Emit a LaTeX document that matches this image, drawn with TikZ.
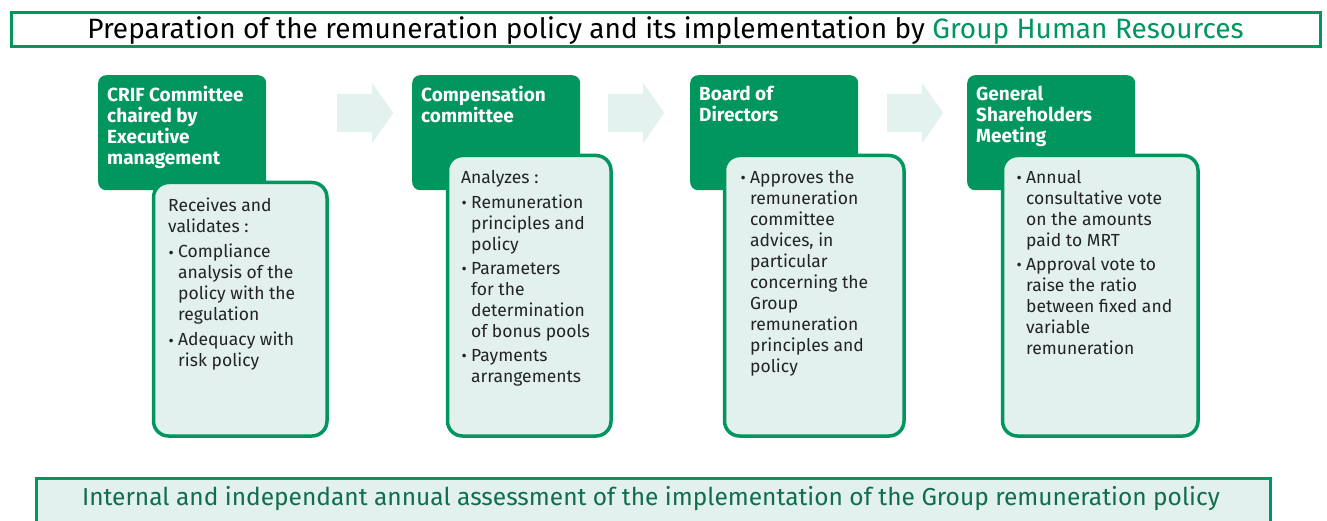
\documentclass[tikz,border=0pt]{standalone}
\usepackage{fontspec}
\setmainfont{Fira Sans}
\usetikzlibrary{shapes.arrows}
\definecolor{bgreen}{RGB}{0,150,94}
\definecolor{lfill}{RGB}{226,240,238}
\definecolor{afill}{RGB}{227,241,239}
\definecolor{dgtext}{RGB}{16,110,74}
\definecolor{bodytext}{RGB}{35,35,35}
\newcommand\bl{\makebox[10pt][l]{\hspace{0.5pt}\raisebox{-0.5pt}{\fontsize{16}{16}\selectfont •}}}
\newcommand\ind{\hspace*{10pt}}
\tikzset{
 hdrbox/.style={fill=bgreen, draw=none, rounded corners=8pt, minimum width=168pt, minimum height=115pt, anchor=north west, inner sep=0pt},
 subbox/.style={fill=lfill, draw=bgreen, line width=3.5pt, rounded corners=15pt, anchor=north west, inner sep=0pt},
 hdrtext/.style={text=white, font=\fontsize{19}{21}\selectfont\bfseries, align=left, anchor=north west, inner sep=0pt},
 subtext/.style={text=bodytext, font=\fontsize{17.5}{21}\selectfont, align=left, anchor=north west, inner sep=0pt},
 flowarrow/.style={single arrow, fill=afill, draw=none, minimum height=56pt, inner xsep=0pt, inner ysep=19pt, single arrow head extend=11pt, single arrow tip angle=110, anchor=west},
 titlebox/.style={draw=bgreen, fill=white, line width=3pt, anchor=north west, inner sep=0pt},
 footbox/.style={draw=bgreen, fill=lfill, line width=3pt, anchor=north west, inner sep=0pt}
}
\begin{document}
\begin{tikzpicture}[x=1pt,y=-1pt]
\useasboundingbox (0,0) rectangle (1327,521);
\clip (0,0) rectangle (1327,521);
% title
\node[titlebox, minimum width=1309pt, minimum height=34pt] (title) at (9.5,11.5) {};
\node[font=\fontsize{28}{32}\selectfont, text=black, inner sep=0pt] (titletext) at ([yshift=-1pt]title.center) {Preparation of the remuneration policy and its implementation by \textcolor{bgreen}{Group Human Resources}};
% headers
\node[hdrbox] (h1) at (98,75) {};
\node[hdrbox] (h2) at (412,75) {};
\node[hdrbox] (h3) at (690,75) {};
\node[hdrbox] (h4) at (967,75) {};
% sub boxes
\node[subbox, minimum width=173.5pt, minimum height=253.5pt] (s1) at (151.75,180.75) {};
\node[subbox, minimum width=163.5pt, minimum height=280.5pt] (s2) at (445.75,153.75) {};
\node[subbox, minimum width=179.5pt, minimum height=280.5pt] (s3) at (722.75,153.75) {};
\node[subbox, minimum width=195.5pt, minimum height=280.5pt] (s4) at (1000.75,153.75) {};
% header texts
\node[hdrtext] (ht1) at (107,86) {CRIF Committee\\chaired by\\Executive\\management};
\node[hdrtext] (ht2) at (421,86) {Compensation\\committee};
\node[hdrtext] (ht3) at (699,86) {Board of\\Directors};
\node[hdrtext] (ht4) at (976,86) {General\\Shareholders\\Meeting};
% sub texts
\node[subtext] (t1) at (168,198) {Receives and\\validates :\\[4pt]\bl Compliance\\\ind analysis of the\\\ind policy with the\\\ind regulation\\[4pt]\bl Adequacy with\\\ind risk policy};
\node[subtext] (t2) at (461,170) {Analyzes :\\[4pt]\bl Remuneration\\\ind principles and\\\ind policy\\[3pt]\bl Parameters\\\ind for the\\\ind determination\\\ind of bonus pools\\[3pt]\bl Payments\\\ind arrangements};
\node[subtext] (t3) at (740,170) {\bl Approves the\\\ind remuneration\\\ind committee\\\ind advices, in\\\ind particular\\\ind concerning the\\\ind Group\\\ind remuneration\\\ind principles and\\\ind policy};
\node[subtext] (t4) at (1016,170) {\bl Annual\\\ind consultative vote\\\ind on the amounts\\\ind paid to MRT\\[3pt]\bl Approval vote to\\\ind raise the ratio\\\ind between fixed and\\\ind variable\\\ind remuneration};
% arrows
\node[flowarrow] (a1) at (337,113) {};
\node[flowarrow] (a2) at (608,113) {};
\node[flowarrow] (a3) at (887,113) {};
% footer
\node[footbox, minimum width=1234pt, minimum height=70pt] (foot) at (34.5,476.5) {};
\node[font=\fontsize{24.5}{28}\selectfont, text=dgtext, inner sep=0pt, anchor=base] (foottext) at (651,505) {Internal and independant annual assessment of the implementation of the Group remuneration policy};
\end{tikzpicture}
\end{document}
